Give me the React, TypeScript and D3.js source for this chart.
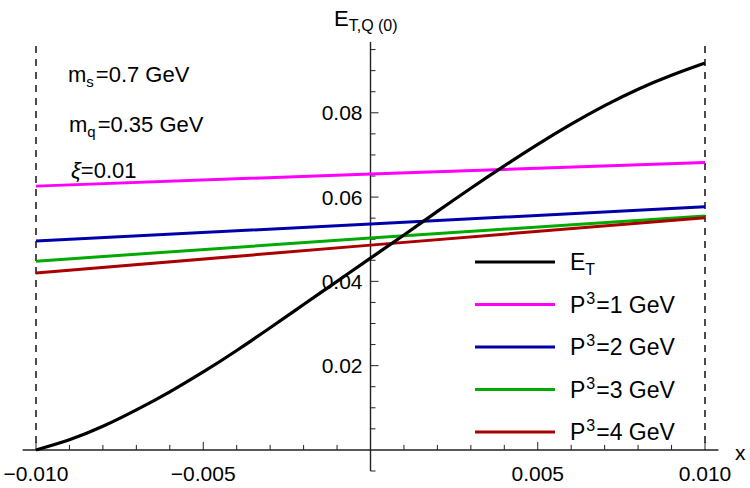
import * as d3 from 'd3';
import { useEffect, useRef } from 'react';

const W = 750;
const H = 488;

// E_T curve, sampled every 0.001 in x
const xSamples = [
  -0.01, -0.009, -0.008, -0.007, -0.006, -0.005, -0.004, -0.003, -0.002, -0.001, 0,
  0.001, 0.002, 0.003, 0.004, 0.005, 0.006, 0.007, 0.008, 0.009, 0.01,
];
const etValues = [
  0.0, 0.0024, 0.0056, 0.0095, 0.0138, 0.0185, 0.0236, 0.029, 0.0345, 0.04, 0.0455,
  0.051, 0.0566, 0.0621, 0.0674, 0.0725, 0.0773, 0.0817, 0.0856, 0.0889, 0.0918,
];

// P^3 lines, read at x = -0.01, 0, 0.01
const pX = [-0.01, 0, 0.01];
const p1Values = [0.0626, 0.0655, 0.0682];
const p2Values = [0.0496, 0.0536, 0.0577];
const p3Values = [0.0448, 0.0503, 0.0555];
const p4Values = [0.042, 0.0486, 0.0551];

const pLabels = ['1', '2', '3', '4'];
const pColors = ['#ff00ff', '#0000aa', '#00aa00', '#aa0000'];

const xMajor = [-0.01, -0.005, 0.005, 0.01];
const xMajorLabels = ['\u22120.010', '\u22120.005', '0.005', '0.010'];
const yMajor = [0.02, 0.04, 0.06, 0.08];
const yMajorLabels = ['0.02', '0.04', '0.06', '0.08'];

const font = '"Liberation Sans", Arial, sans-serif';

export default function App() {
  const svgRef = useRef<SVGSVGElement>(null);

  useEffect(() => {
    const svg = d3.select(svgRef.current);
    svg.selectAll('*').remove();

    const x = d3.scaleLinear().domain([-0.01, 0.01]).range([36, 705]);
    const y = d3.scaleLinear().domain([-0.005, 0.0968]).range([471, 42]);

    const line = d3
      .line<[number, number]>()
      .x((d) => x(d[0]))
      .y((d) => y(d[1]))
      .curve(d3.curveNatural);

    // dashed boundaries
    [-0.01, 0.01].forEach((v) =>
      svg
        .append('line')
        .attr('x1', x(v))
        .attr('x2', x(v))
        .attr('y1', 46)
        .attr('y2', y(0))
        .attr('stroke', '#000')
        .attr('stroke-width', 1.4)
        .attr('stroke-dasharray', '7,6')
    );

    // axes
    const axis = svg.append('g').attr('stroke', '#222').attr('fill', 'none');
    axis
      .append('line')
      .attr('x1', x(-0.0104))
      .attr('x2', x(0.0104))
      .attr('y1', y(0))
      .attr('y2', y(0))
      .attr('stroke-width', 1.4);
    axis
      .append('line')
      .attr('x1', x(0))
      .attr('x2', x(0))
      .attr('y1', y(0.0968))
      .attr('y2', y(-0.005))
      .attr('stroke-width', 1.4);

    d3.range(-10, 11).forEach((i) => {
      const v = i / 1000;
      const major = i % 5 === 0;
      axis
        .append('line')
        .attr('x1', x(v))
        .attr('x2', x(v))
        .attr('y1', y(0))
        .attr('y2', y(0) - (major ? 8 : 5))
        .attr('stroke-width', 1);
    });
    d3.range(-1, 20).forEach((i) => {
      if (i === 0) return;
      const v = i * 0.005;
      const major = i % 4 === 0;
      axis
        .append('line')
        .attr('x1', x(0))
        .attr('x2', x(0) + (major ? 8 : 5))
        .attr('y1', y(v))
        .attr('y2', y(v))
        .attr('stroke-width', 1);
    });

    const labels = svg.append('g').attr('font-family', font).attr('fill', '#000');
    xMajor.forEach((v, i) =>
      labels
        .append('text')
        .attr('x', x(v))
        .attr('y', 481)
        .attr('text-anchor', 'middle')
        .attr('font-size', 21)
        .text(xMajorLabels[i])
    );
    yMajor.forEach((v, i) =>
      labels
        .append('text')
        .attr('x', x(0) - 8)
        .attr('y', y(v) + 7.5)
        .attr('text-anchor', 'end')
        .attr('font-size', 21)
        .text(yMajorLabels[i])
    );
    labels.append('text').attr('x', 735).attr('y', 460).attr('font-size', 21).text('x');

    const yl = labels.append('text').attr('x', 334).attr('y', 26).attr('font-size', 22);
    yl.append('tspan').text('E');
    yl.append('tspan').attr('font-size', 16).attr('dy', 5).text('T,Q (0)');

    // curves
    const lines = svg.append('g').attr('fill', 'none').attr('stroke-width', 3);
    const pSeries = [p1Values, p2Values, p3Values, p4Values];
    pSeries.forEach((vals, i) =>
      lines
        .append('path')
        .attr('d', line(pX.map((v, j) => [v, vals[j]] as [number, number])))
        .attr('stroke', pColors[i])
    );
    lines
      .append('path')
      .attr('d', line(xSamples.map((v, j) => [v, etValues[j]] as [number, number])))
      .attr('stroke', '#000')
      .attr('stroke-width', 3.2);

    // annotations
    const ann = svg.append('g').attr('font-family', font).attr('font-size', 22).attr('fill', '#000');
    const a1 = ann.append('text').attr('x', 68).attr('y', 82);
    a1.append('tspan').text('m');
    a1.append('tspan').attr('font-size', 15).attr('dy', 5).text('s');
    a1.append('tspan').attr('dy', -5).attr('dx', 2).text('=0.7 GeV');
    const a2 = ann.append('text').attr('x', 69).attr('y', 132);
    a2.append('tspan').text('m');
    a2.append('tspan').attr('font-size', 15).attr('dy', 5).text('q');
    a2.append('tspan').attr('dy', -5).attr('dx', 2).text('=0.35 GeV');
    const a3 = ann.append('text').attr('x', 71).attr('y', 178);
    a3.append('tspan').attr('font-style', 'italic').text('\u03be');
    a3.append('tspan').text('=0.01');

    // legend
    const legend = svg.append('g').attr('font-family', font).attr('font-size', 23);
    const rows = [{ color: '#000', label: null as string | null }].concat(
      pLabels.map((l, i) => ({ color: pColors[i], label: l }))
    );
    rows.forEach((r, i) => {
      const cy = 262 + i * 42.5;
      legend
        .append('line')
        .attr('x1', 475)
        .attr('x2', 555)
        .attr('y1', cy)
        .attr('y2', cy)
        .attr('stroke', r.color)
        .attr('stroke-width', 3);
      const t = legend.append('text').attr('x', 570).attr('y', cy + 8).attr('fill', '#000');
      if (r.label === null) {
        t.append('tspan').text('E');
        t.append('tspan').attr('font-size', 16).attr('dy', 5).text('T');
      } else {
        t.append('tspan').text('P');
        t.append('tspan').attr('font-size', 16).attr('dy', -9).attr('dx', 1).text('3');
        t.append('tspan').attr('dy', 9).attr('dx', 1).text(`=${r.label} GeV`);
      }
    });
  }, []);

  return (
    <svg
      ref={svgRef}
      width={W}
      height={H}
      style={{ position: 'absolute', left: 0, top: 0, background: '#fff' }}
    />
  );
}
